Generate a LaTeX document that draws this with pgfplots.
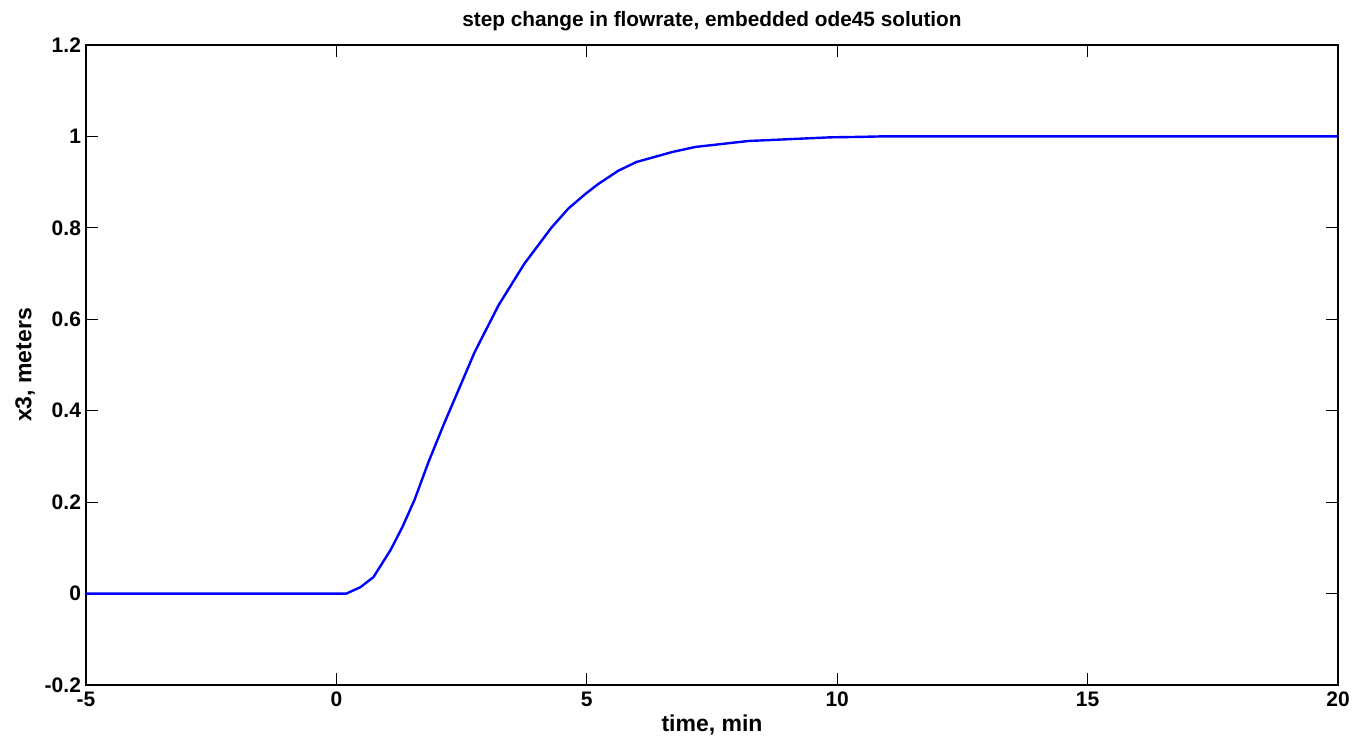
\documentclass[border=0pt]{standalone}
\usepackage{pgfplots}
\pgfplotsset{compat=1.18}
\usepackage{fontspec}
\setmainfont{Liberation Sans}
\begin{document}
\begin{tikzpicture}
\begin{axis}[
  at={(0,0)}, anchor=south west,
  scale only axis,
  width=626pt, height=320pt,
  xmin=-5, xmax=20, ymin=-0.2, ymax=1.2,
  xtick={-5,0,5,10,15,20},
  ytick={-0.2,0,0.2,0.4,0.6,0.8,1,1.2},
  yticklabels={-0.2,0,0.2,0.4,0.6,0.8,1,1.2},
  xticklabels={-5,0,5,10,15,20},
  tick align=inside,
  major tick length=6pt,
  axis line style={line width=0.6pt},
  every tick/.style={black, line width=0.5pt},
  tick label style={font=\fontsize{10.5}{12}\selectfont\bfseries},
  xticklabel style={yshift=0pt},
  yticklabel style={xshift=1pt},
  title={step change in flowrate, embedded ode45 solution},
  title style={font=\fontsize{10.4}{12}\selectfont\bfseries, at={(axis description cs:0.5,1)}, anchor=base, yshift=3pt},
  xlabel={time, min},
  ylabel={x3, meters},
  label style={font=\fontsize{11.5}{13}\selectfont\bfseries},
  xlabel style={at={(axis description cs:0.5,0)}, anchor=base, yshift=-23.5pt},
  ylabel style={at={(axis description cs:-0.0487,0.5)}, anchor=center},
]
\addplot[blue, line width=1.2pt] coordinates {
(-5,0) (0.2,0) (0.48,0.014) (0.74,0.036) (1.08,0.095) (1.32,0.146) (1.56,0.205)
(1.84,0.288) (2.14,0.369) (2.48,0.456) (2.76,0.528) (3.24,0.631) (3.75,0.721)
(4.29,0.800) (4.63,0.842) (4.97,0.874) (5.23,0.896) (5.63,0.925) (5.99,0.944)
(6.71,0.966) (7.17,0.977) (8.23,0.990) (9.86,0.998) (10.46,0.999) (10.86,1.0) (20,1.0)
};
\end{axis}
\pgfresetboundingbox
\path (-43pt,-26pt) rectangle (634pt,342.5pt);
\end{tikzpicture}
\end{document}
